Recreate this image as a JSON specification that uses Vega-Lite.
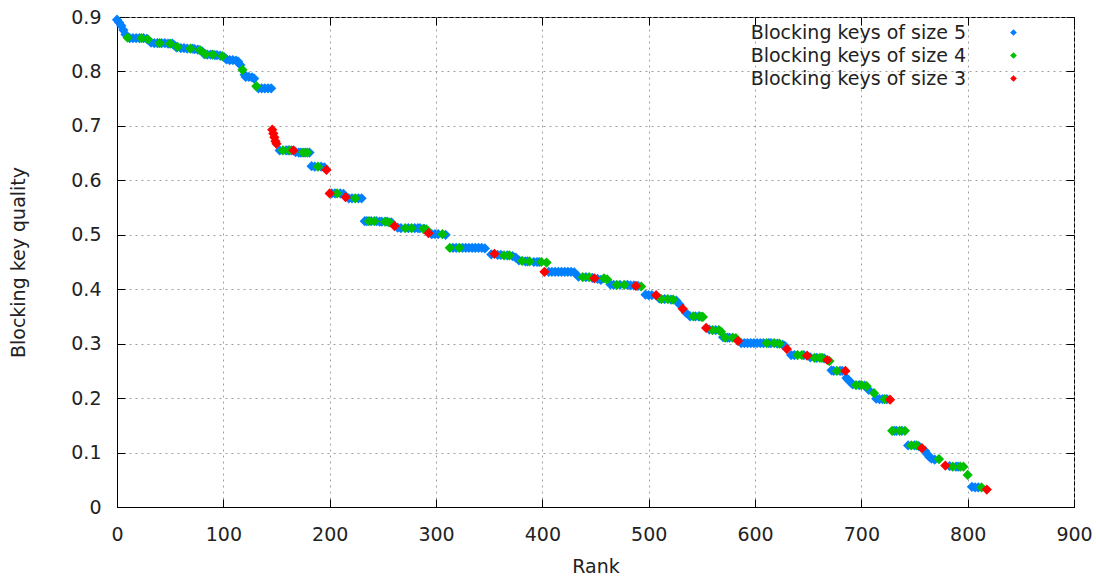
{
  "$schema": "https://vega.github.io/schema/vega-lite/v6.json",
  "width": 957,
  "height": 490,
  "autosize": {"type": "none"},
  "padding": {"left": 117, "top": 17, "right": 22, "bottom": 71},
  "background": "white",
  "config": {
    "font": "DejaVu Sans",
    "view": {"stroke": "#000", "strokeWidth": 1},
    "axis": {
      "labelFont": "DejaVu Sans", "titleFont": "DejaVu Sans",
      "labelFontSize": 19, "titleFontSize": 19, "titleFontWeight": "normal",
      "labelColor": "#222", "titleColor": "#222",
      "domainColor": "#000", "tickColor": "#000",
      "gridColor": "#a0a0a0", "gridDash": [2, 4], "gridWidth": 1,
      "tickSize": -8, "labelFlush": false
    },
    "legend": {
      "labelFont": "DejaVu Sans", "labelFontSize": 19, "labelColor": "#222",
      "labelLimit": 500, "labelAlign": "right", "labelOffset": -57,
      "symbolSize": 45, "rowPadding": 3, "padding": 0
    }
  },
  "data": {"values": [
    {"r":0,"q":0.895,"s":5},{"r":2,"q":0.89,"s":5},{"r":4,"q":0.884,"s":5},{"r":6,"q":0.876,"s":5},{"r":8,"q":0.868,"s":5},
    {"r":12,"q":0.861,"s":5},{"r":15,"q":0.861,"s":5},{"r":18,"q":0.861,"s":5},{"r":21,"q":0.861,"s":5},{"r":25,"q":0.861,"s":5},{"r":28,"q":0.86,"s":5},
    {"r":32,"q":0.853,"s":5},{"r":35,"q":0.852,"s":5},{"r":38,"q":0.852,"s":5},{"r":42,"q":0.852,"s":5},{"r":45,"q":0.852,"s":5},{"r":48,"q":0.851,"s":5},{"r":52,"q":0.851,"s":5},{"r":54,"q":0.848,"s":5},
    {"r":56,"q":0.844,"s":5},{"r":60,"q":0.843,"s":5},{"r":63,"q":0.843,"s":5},{"r":66,"q":0.842,"s":5},{"r":71,"q":0.842,"s":5},{"r":73,"q":0.841,"s":5},{"r":76,"q":0.84,"s":5},{"r":80,"q":0.837,"s":5},
    {"r":82,"q":0.832,"s":5},{"r":85,"q":0.831,"s":5},{"r":88,"q":0.831,"s":5},{"r":92,"q":0.83,"s":5},{"r":94,"q":0.83,"s":5},{"r":97,"q":0.829,"s":5},{"r":101,"q":0.826,"s":5},
    {"r":103,"q":0.822,"s":5},{"r":106,"q":0.821,"s":5},{"r":109,"q":0.821,"s":5},{"r":112,"q":0.82,"s":5},{"r":114,"q":0.818,"s":5},
    {"r":116,"q":0.812,"s":5},{"r":120,"q":0.794,"s":5},
    {"r":121,"q":0.79,"s":5},{"r":124,"q":0.79,"s":5},{"r":127,"q":0.789,"s":5},{"r":129,"q":0.787,"s":5},
    {"r":133,"q":0.769,"s":5},{"r":136,"q":0.769,"s":5},{"r":139,"q":0.769,"s":5},{"r":142,"q":0.769,"s":5},{"r":145,"q":0.769,"s":5},
    {"r":153,"q":0.655,"s":5},{"r":159,"q":0.655,"s":5},{"r":161,"q":0.655,"s":5},{"r":164,"q":0.655,"s":5},{"r":168,"q":0.652,"s":5},{"r":171,"q":0.651,"s":5},{"r":173,"q":0.651,"s":5},{"r":177,"q":0.651,"s":5},{"r":181,"q":0.651,"s":5},
    {"r":183,"q":0.626,"s":5},{"r":186,"q":0.625,"s":5},{"r":192,"q":0.625,"s":5},{"r":195,"q":0.624,"s":5},
    {"r":202,"q":0.576,"s":5},{"r":205,"q":0.576,"s":5},{"r":210,"q":0.576,"s":5},{"r":213,"q":0.575,"s":5},
    {"r":218,"q":0.567,"s":5},{"r":221,"q":0.567,"s":5},{"r":227,"q":0.567,"s":5},{"r":230,"q":0.567,"s":5},
    {"r":233,"q":0.525,"s":5},{"r":235,"q":0.525,"s":5},{"r":239,"q":0.525,"s":5},{"r":244,"q":0.525,"s":5},{"r":247,"q":0.524,"s":5},{"r":249,"q":0.524,"s":5},{"r":254,"q":0.524,"s":5},{"r":258,"q":0.523,"s":5},
    {"r":264,"q":0.513,"s":5},{"r":267,"q":0.512,"s":5},{"r":274,"q":0.512,"s":5},{"r":280,"q":0.512,"s":5},{"r":283,"q":0.512,"s":5},{"r":285,"q":0.512,"s":5},{"r":289,"q":0.511,"s":5},
    {"r":296,"q":0.501,"s":5},{"r":299,"q":0.501,"s":5},{"r":302,"q":0.501,"s":5},{"r":309,"q":0.5,"s":5},
    {"r":316,"q":0.476,"s":5},{"r":319,"q":0.476,"s":5},{"r":325,"q":0.476,"s":5},{"r":328,"q":0.476,"s":5},{"r":331,"q":0.476,"s":5},{"r":334,"q":0.476,"s":5},{"r":337,"q":0.476,"s":5},{"r":340,"q":0.476,"s":5},{"r":343,"q":0.476,"s":5},{"r":346,"q":0.475,"s":5},
    {"r":352,"q":0.464,"s":5},{"r":358,"q":0.463,"s":5},{"r":361,"q":0.463,"s":5},{"r":367,"q":0.462,"s":5},{"r":372,"q":0.461,"s":5},{"r":375,"q":0.458,"s":5},
    {"r":378,"q":0.453,"s":5},{"r":384,"q":0.451,"s":5},{"r":386,"q":0.451,"s":5},{"r":392,"q":0.45,"s":5},{"r":395,"q":0.45,"s":5},{"r":397,"q":0.45,"s":5},
    {"r":406,"q":0.432,"s":5},{"r":409,"q":0.432,"s":5},{"r":412,"q":0.432,"s":5},{"r":415,"q":0.432,"s":5},{"r":418,"q":0.432,"s":5},{"r":421,"q":0.432,"s":5},{"r":424,"q":0.432,"s":5},{"r":427,"q":0.432,"s":5},{"r":430,"q":0.431,"s":5},
    {"r":434,"q":0.423,"s":5},{"r":441,"q":0.422,"s":5},{"r":447,"q":0.421,"s":5},{"r":452,"q":0.419,"s":5},{"r":455,"q":0.417,"s":5},
    {"r":464,"q":0.409,"s":5},{"r":467,"q":0.408,"s":5},{"r":473,"q":0.408,"s":5},{"r":480,"q":0.408,"s":5},{"r":483,"q":0.407,"s":5},{"r":486,"q":0.407,"s":5},{"r":490,"q":0.406,"s":5},
    {"r":497,"q":0.39,"s":5},{"r":500,"q":0.389,"s":5},{"r":503,"q":0.389,"s":5},
    {"r":510,"q":0.383,"s":5},{"r":515,"q":0.382,"s":5},{"r":521,"q":0.381,"s":5},{"r":526,"q":0.379,"s":5},
    {"r":529,"q":0.372,"s":5},{"r":535,"q":0.357,"s":5},
    {"r":539,"q":0.35,"s":5},{"r":544,"q":0.35,"s":5},{"r":547,"q":0.35,"s":5},{"r":550,"q":0.349,"s":5},
    {"r":557,"q":0.326,"s":5},{"r":563,"q":0.325,"s":5},
    {"r":570,"q":0.312,"s":5},{"r":574,"q":0.311,"s":5},{"r":576,"q":0.311,"s":5},
    {"r":587,"q":0.301,"s":5},{"r":590,"q":0.301,"s":5},{"r":593,"q":0.301,"s":5},{"r":596,"q":0.301,"s":5},{"r":599,"q":0.301,"s":5},{"r":602,"q":0.301,"s":5},{"r":605,"q":0.301,"s":5},{"r":608,"q":0.301,"s":5},{"r":613,"q":0.301,"s":5},{"r":615,"q":0.301,"s":5},{"r":621,"q":0.3,"s":5},{"r":626,"q":0.298,"s":5},{"r":628,"q":0.296,"s":5},
    {"r":634,"q":0.279,"s":5},{"r":637,"q":0.279,"s":5},{"r":646,"q":0.279,"s":5},
    {"r":652,"q":0.275,"s":5},{"r":658,"q":0.274,"s":5},{"r":665,"q":0.273,"s":5},
    {"r":672,"q":0.251,"s":5},{"r":674,"q":0.25,"s":5},{"r":680,"q":0.25,"s":5},{"r":682,"q":0.25,"s":5},
    {"r":686,"q":0.237,"s":5},{"r":688,"q":0.233,"s":5},{"r":690,"q":0.229,"s":5},
    {"r":692,"q":0.225,"s":5},{"r":698,"q":0.224,"s":5},{"r":703,"q":0.223,"s":5},
    {"r":707,"q":0.215,"s":5},
    {"r":714,"q":0.199,"s":5},{"r":717,"q":0.198,"s":5},{"r":720,"q":0.198,"s":5},{"r":724,"q":0.198,"s":5},
    {"r":731,"q":0.14,"s":5},{"r":733,"q":0.14,"s":5},{"r":738,"q":0.14,"s":5},
    {"r":744,"q":0.113,"s":5},{"r":750,"q":0.113,"s":5},{"r":754,"q":0.112,"s":5},
    {"r":760,"q":0.103,"s":5},{"r":762,"q":0.097,"s":5},{"r":764,"q":0.092,"s":5},{"r":766,"q":0.089,"s":5},{"r":769,"q":0.087,"s":5},
    {"r":783,"q":0.075,"s":5},{"r":789,"q":0.074,"s":5},{"r":791,"q":0.074,"s":5},
    {"r":804,"q":0.037,"s":5},{"r":807,"q":0.036,"s":5},{"r":810,"q":0.036,"s":5},

    {"r":10,"q":0.862,"s":4},{"r":23,"q":0.861,"s":4},{"r":29,"q":0.859,"s":4},{"r":40,"q":0.852,"s":4},{"r":50,"q":0.851,"s":4},{"r":57,"q":0.845,"s":4},{"r":69,"q":0.842,"s":4},{"r":78,"q":0.839,"s":4},
    {"r":83,"q":0.832,"s":4},{"r":90,"q":0.831,"s":4},{"r":99,"q":0.828,"s":4},{"r":118,"q":0.803,"s":4},{"r":131,"q":0.773,"s":4},
    {"r":156,"q":0.655,"s":4},{"r":162,"q":0.655,"s":4},{"r":175,"q":0.651,"s":4},{"r":179,"q":0.651,"s":4},
    {"r":189,"q":0.625,"s":4},{"r":207,"q":0.576,"s":4},{"r":224,"q":0.567,"s":4},
    {"r":237,"q":0.525,"s":4},{"r":242,"q":0.525,"s":4},{"r":252,"q":0.524,"s":4},{"r":256,"q":0.523,"s":4},
    {"r":271,"q":0.512,"s":4},{"r":277,"q":0.512,"s":4},{"r":288,"q":0.511,"s":4},{"r":291,"q":0.51,"s":4},
    {"r":306,"q":0.501,"s":4},{"r":313,"q":0.476,"s":4},{"r":322,"q":0.476,"s":4},
    {"r":364,"q":0.462,"s":4},{"r":369,"q":0.462,"s":4},
    {"r":381,"q":0.452,"s":4},{"r":388,"q":0.451,"s":4},{"r":399,"q":0.45,"s":4},{"r":404,"q":0.449,"s":4},
    {"r":438,"q":0.422,"s":4},{"r":444,"q":0.422,"s":4},{"r":458,"q":0.42,"s":4},{"r":461,"q":0.418,"s":4},
    {"r":470,"q":0.408,"s":4},{"r":477,"q":0.408,"s":4},{"r":493,"q":0.405,"s":4},
    {"r":512,"q":0.382,"s":4},{"r":518,"q":0.382,"s":4},{"r":523,"q":0.381,"s":4},
    {"r":542,"q":0.35,"s":4},{"r":548,"q":0.35,"s":4},{"r":551,"q":0.349,"s":4},
    {"r":560,"q":0.325,"s":4},{"r":566,"q":0.325,"s":4},{"r":568,"q":0.322,"s":4},
    {"r":572,"q":0.311,"s":4},{"r":579,"q":0.311,"s":4},{"r":582,"q":0.31,"s":4},
    {"r":611,"q":0.301,"s":4},{"r":618,"q":0.301,"s":4},{"r":623,"q":0.3,"s":4},
    {"r":640,"q":0.279,"s":4},{"r":644,"q":0.279,"s":4},
    {"r":656,"q":0.274,"s":4},{"r":661,"q":0.274,"s":4},{"r":663,"q":0.274,"s":4},{"r":670,"q":0.268,"s":4},
    {"r":677,"q":0.25,"s":4},
    {"r":695,"q":0.224,"s":4},{"r":700,"q":0.224,"s":4},{"r":705,"q":0.222,"s":4},{"r":712,"q":0.209,"s":4},
    {"r":722,"q":0.198,"s":4},
    {"r":729,"q":0.14,"s":4},{"r":736,"q":0.14,"s":4},{"r":741,"q":0.14,"s":4},
    {"r":747,"q":0.113,"s":4},{"r":752,"q":0.113,"s":4},
    {"r":773,"q":0.088,"s":4},
    {"r":786,"q":0.074,"s":4},{"r":793,"q":0.074,"s":4},{"r":796,"q":0.074,"s":4},{"r":800,"q":0.059,"s":4},
    {"r":813,"q":0.036,"s":4},

    {"r":146,"q":0.693,"s":3},{"r":147,"q":0.686,"s":3},{"r":148,"q":0.679,"s":3},{"r":149,"q":0.672,"s":3},{"r":150,"q":0.667,"s":3},
    {"r":166,"q":0.655,"s":3},{"r":197,"q":0.619,"s":3},{"r":200,"q":0.576,"s":3},{"r":215,"q":0.569,"s":3},
    {"r":261,"q":0.516,"s":3},{"r":293,"q":0.503,"s":3},{"r":355,"q":0.465,"s":3},{"r":402,"q":0.432,"s":3},
    {"r":449,"q":0.42,"s":3},{"r":488,"q":0.406,"s":3},{"r":507,"q":0.389,"s":3},{"r":532,"q":0.364,"s":3},
    {"r":554,"q":0.329,"s":3},{"r":584,"q":0.305,"s":3},{"r":630,"q":0.29,"s":3},{"r":649,"q":0.278,"s":3},
    {"r":668,"q":0.27,"s":3},{"r":685,"q":0.25,"s":3},{"r":727,"q":0.197,"s":3},{"r":757,"q":0.108,"s":3},
    {"r":779,"q":0.076,"s":3},{"r":818,"q":0.032,"s":3}
  ]},
  "layer": [
    {
      "mark": {"type": "point", "shape": "diamond", "filled": true, "opacity": 1, "size": 105, "strokeWidth": 0},
      "encoding": {
        "x": {"field": "r", "type": "quantitative",
              "scale": {"domain": [0, 900], "nice": false, "zero": false},
              "axis": {"title": "Rank", "values": [0,100,200,300,400,500,600,700,800,900], "labelPadding": 26, "titlePadding": 13}},
        "y": {"field": "q", "type": "quantitative",
              "scale": {"domain": [0, 0.9], "nice": false},
              "axis": {"title": "Blocking key quality", "values": [0,0.1,0.2,0.3,0.4,0.5,0.6,0.7,0.8,0.9], "format": ".1~f", "labelPadding": 24, "titlePadding": 42}},
        "color": {"field": "s", "type": "nominal",
                  "scale": {"domain": [5, 4, 3], "range": ["#0080ff", "#00c000", "#ff0000"]},
                  "legend": {"title": null, "orient": "none", "legendX": 887, "legendY": 6,
                             "labelExpr": "'Blocking keys of size ' + datum.label", "symbolType": "diamond"}}
      }
    },
    {
      "mark": {"type": "point", "opacity": 0},
      "encoding": {
        "x": {"field": "r", "type": "quantitative",
              "axis": {"orient": "top", "title": null, "labels": false, "grid": false, "domain": false, "values": [0,100,200,300,400,500,600,700,800,900]}},
        "y": {"field": "q", "type": "quantitative",
              "axis": {"orient": "right", "title": null, "labels": false, "grid": false, "domain": false, "values": [0,0.1,0.2,0.3,0.4,0.5,0.6,0.7,0.8,0.9]}}
      }
    }
  ],
  "resolve": {"axis": {"x": "independent", "y": "independent"}}
}
